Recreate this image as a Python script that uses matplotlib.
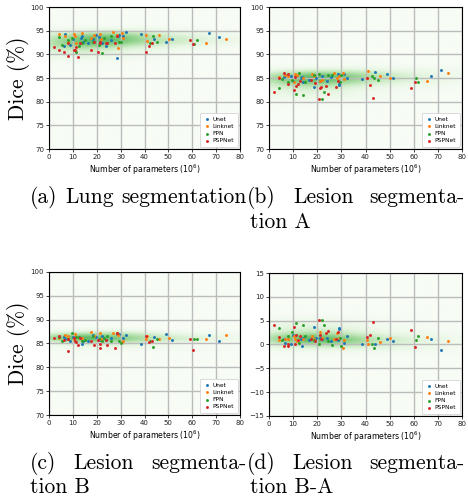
import numpy as np
import matplotlib
matplotlib.use("Agg")
import matplotlib.pyplot as plt

W, H = 468, 498

ARCHS = ["Unet", "Linknet", "FPN", "PSPNet"]
COLORS = ["#1f77b4", "#ff7f0e", "#2ca02c", "#d62728"]

# number of parameters (10^6) per encoder, one list per architecture
unet_x = [6.3, 6.5, 9.0, 10.0, 13.2, 13.8, 14.3, 16.5, 18.5, 19.5, 21.0, 22.0, 24.0,
          25.8, 28.5, 28.9, 29.2, 31.2, 32.4, 38.6, 43.8, 48.8, 51.4, 67.1, 71.3]
linknet_x = [4.0, 6.5, 8.0, 10.5, 10.8, 11.5, 13.9, 17.8, 18.8, 21.2, 21.8, 27.0, 28.3,
             28.9, 30.6, 31.2, 40.7, 41.2, 46.1, 50.3, 65.6, 74.0]
fpn_x = [4.0, 5.5, 7.8, 9.5, 11.2, 12.5, 13.9, 15.0, 18.6, 20.8, 22.0, 23.0, 24.5,
         26.0, 29.5, 30.0, 42.5, 43.6, 45.1, 60.8, 61.8]
pspnet_x = [2.2, 4.2, 6.1, 7.8, 8.0, 10.3, 10.8, 11.3, 12.2, 13.0, 17.5, 19.0, 20.6,
            21.2, 21.5, 23.7, 24.3, 27.8, 28.5, 40.7, 41.7, 43.2, 58.9, 60.4]

# (a) lung segmentation dice
unet_a = [91.8, 94.3, 92.0, 93.2, 93.5, 93.9, 92.6, 92.4, 93.3, 94.0, 93.6, 92.5, 91.8,
          93.1, 89.3, 93.9, 94.0, 93.8, 94.8, 94.3, 93.3, 92.7, 93.3, 94.5, 93.7]
linknet_a = [94.4, 93.8, 92.6, 94.4, 93.9, 92.3, 94.5, 93.4, 94.1, 94.2, 93.3, 94.7, 94.1,
             91.3, 94.6, 93.5, 94.0, 92.9, 94.1, 93.3, 92.4, 93.3]
fpn_a = [93.7, 92.0, 93.0, 93.4, 90.5, 91.8, 92.3, 93.0, 92.7, 91.9, 90.2, 93.4, 92.4,
         93.9, 92.7, 92.7, 92.5, 93.9, 92.7, 92.2, 93.0]
pspnet_a = [91.5, 91.0, 90.4, 89.6, 92.5, 91.0, 90.9, 91.6, 89.4, 92.4, 91.0, 92.6, 90.5,
            92.4, 92.6, 92.3, 92.5, 92.4, 93.8, 90.4, 91.7, 92.3, 93.0, 92.1]

# (b) lesion segmentation A
unet_b = [85.3, 85.6, 85.4, 84.3, 84.9, 85.2, 84.2, 84.6, 83.1, 85.0, 84.3, 85.4, 84.4,
          85.3, 85.9, 83.5, 83.8, 85.8, 84.9, 84.8, 86.3, 85.8, 85.1, 85.5, 86.7]
linknet_b = [85.2, 85.7, 85.4, 84.1, 85.9, 85.6, 84.9, 85.8, 85.4, 84.4, 84.5, 86.0, 84.9,
             85.5, 86.0, 84.7, 85.1, 86.5, 85.4, 84.9, 84.4, 86.0]
fpn_b = [82.9, 84.7, 84.2, 84.6, 81.7, 86.1, 81.5, 84.1, 85.7, 85.8, 80.5, 82.1, 85.7,
         85.6, 84.1, 85.6, 85.4, 85.0, 84.6, 85.0, 84.2]
pspnet_b = [82.0, 85.0, 86.0, 83.8, 85.8, 82.5, 85.3, 83.4, 83.7, 84.4, 84.5, 84.0, 80.5,
            82.8, 83.0, 83.4, 81.7, 83.0, 84.4, 85.0, 83.5, 80.8, 82.8, 84.1]

# (c) lesion segmentation B
unet_c = [86.4, 86.0, 85.6, 86.3, 86.1, 84.9, 85.6, 85.5, 86.7, 86.3, 85.7, 86.6, 85.8,
          86.1, 86.9, 86.9, 87.0, 86.1, 86.7, 84.9, 86.4, 86.9, 85.8, 86.7, 85.5]
linknet_c = [86.2, 86.8, 86.5, 85.9, 87.0, 86.4, 86.1, 87.5, 86.6, 87.1, 85.9, 87.1, 87.3,
             86.8, 85.3, 85.6, 86.0, 86.5, 86.0, 86.2, 85.9, 86.7]
fpn_c = [86.3, 85.6, 86.0, 87.3, 86.3, 86.4, 85.6, 85.8, 86.6, 85.9, 85.6, 86.1, 86.5,
         85.5, 85.5, 85.2, 85.5, 84.3, 85.9, 85.9, 86.0]
pspnet_c = [86.1, 86.5, 85.7, 83.4, 86.0, 86.1, 85.5, 85.3, 84.6, 86.1, 85.6, 84.7, 85.7,
            84.8, 84.1, 85.8, 84.6, 84.1, 87.1, 86.5, 85.4, 85.6, 85.9, 83.6]

# (d) lesion segmentation B-A
unet_d = [1.1, 0.4, 0.2, 2.0, 1.2, -0.3, 1.4, 0.9, 3.6, 1.3, 1.4, 1.2, 1.4,
          0.8, 1.0, 3.4, 3.2, 0.3, 1.8, 0.1, 0.1, 1.1, 0.7, 1.2, -1.2]
linknet_d = [1.0, 1.1, 1.1, 1.8, 1.1, 0.8, 1.2, 1.7, 1.2, 2.7, 1.4, 1.1, 2.4,
             1.3, -0.7, 0.9, 0.9, 0.0, 0.6, 1.3, 1.5, 0.7]
fpn_d = [3.4, 0.9, 1.8, 2.7, 4.6, 0.3, 4.1, 1.7, 0.9, 0.1, 5.1, 4.0, 0.8,
         -0.1, 1.4, -0.4, 0.1, -0.7, 1.3, 0.9, 1.8]
pspnet_d = [4.1, 1.5, -0.3, -0.4, 0.2, 3.6, 0.2, 1.9, 0.9, 1.7, 1.1, 0.7, 5.2,
            2.0, 1.1, 2.4, 2.9, 1.1, 2.7, 1.5, 1.9, 4.8, 3.1, -0.5]

X_PARAMS = [unet_x, linknet_x, fpn_x, pspnet_x]
PANELS = [
    ([unet_a, linknet_a, fpn_a, pspnet_a], (70, 100)),
    ([unet_b, linknet_b, fpn_b, pspnet_b], (70, 100)),
    ([unet_c, linknet_c, fpn_c, pspnet_c], (70, 100)),
    ([unet_d, linknet_d, fpn_d, pspnet_d], (-15, 15)),
]


def kde_grid(xs, ys, xlim, ylim, n=220, widen=(1.7, 1.35)):
    pts = np.vstack([xs, ys])
    factor = pts.shape[1] ** (-1 / 6)
    cov = np.cov(pts) * factor ** 2
    scale = np.diag(widen)
    inv = np.linalg.inv(scale @ cov @ scale)
    gx, gy = np.meshgrid(np.linspace(*xlim, n), np.linspace(*ylim, n))
    dx = gx[..., None] - xs
    dy = gy[..., None] - ys
    q = inv[0, 0] * dx * dx + 2 * inv[0, 1] * dx * dy + inv[1, 1] * dy * dy
    return np.exp(-0.5 * q).sum(-1)


def draw_panel(ax, series, ylim):
    xs = np.concatenate([np.array(v) for v in X_PARAMS])
    ys = np.concatenate([np.array(v) for v in series])
    z = kde_grid(xs, ys, (0, 80), ylim)
    ax.imshow(z, extent=(0, 80, ylim[0], ylim[1]), origin="lower", aspect="auto",
              cmap="Greens", vmin=0, vmax=z.max() * 1.8, interpolation="bilinear", zorder=0)
    for name, col, px, vals in zip(ARCHS, COLORS, X_PARAMS, series):
        ax.scatter(px, vals, s=4.5, color=col, linewidths=0, label=name, zorder=3)
    ax.set_xlim(0, 80)
    ax.set_ylim(*ylim)
    ax.set_xticks(np.arange(0, 81, 10))
    ax.set_yticks(np.arange(ylim[0], ylim[1] + 1, 5))
    ax.grid(True, color="#bcbcbc", lw=1.0)
    ax.tick_params(labelsize=5, length=2, width=0.6, pad=1.5, colors="#222222")
    for s in ax.spines.values():
        s.set_linewidth(0.8)
    ax.set_xlabel("Number of parameters (10$^6$)", fontsize=5.6, labelpad=2)
    leg = ax.legend(loc="lower right", fontsize=4.2, scatterpoints=1, markerscale=1,
                    labelspacing=0.35, handletextpad=0.4, borderpad=0.6,
                    borderaxespad=0.4, handlelength=1.2, framealpha=1, edgecolor="#cccccc")
    leg.get_frame().set_linewidth(0.5)


fig = plt.figure(figsize=(W / 100, H / 100), dpi=100)
boxes = [(49, 7, 191, 142), (269, 7, 193, 142), (49, 272, 191, 143), (269, 273, 193, 143)]
axes = []
for (l, t, w, h), (series, ylim) in zip(boxes, PANELS):
    ax = fig.add_axes([l / W, 1 - (t + h) / H, w / W, h / H])
    draw_panel(ax, series, ylim)
    axes.append(ax)

CM = "cmr10"


def ftext(x, y, s, ha="left", size=15.5):
    fig.text(x / W, 1 - y / H, s, ha=ha, va="baseline", fontsize=size, family=CM)


for ax in (axes[0], axes[2]):
    pos = ax.get_position()
    fig.text(19 / W, (pos.y0 + pos.y1) / 2, "Dice (%)", rotation=90, ha="center",
             va="center", fontsize=15.5, family=CM)

# captions
ftext(30, 203, "(a)")
ftext(65, 203, "Lung")
ftext(247, 203, "segmentation", ha="right")
ftext(247, 203, "(b)")
ftext(293, 203, "Lesion")
ftext(465, 203, "segmenta-", ha="right")
ftext(250, 228, "tion A")

ftext(30, 469, "(c)")
ftext(73, 469, "Lesion")
ftext(246, 469, "segmenta-", ha="right")
ftext(30, 493, "tion B")
ftext(247, 469, "(d)")
ftext(292, 469, "Lesion")
ftext(465, 469, "segmenta-", ha="right")
ftext(250, 493, "tion B-A")

fig.savefig("out.png", dpi=100)
